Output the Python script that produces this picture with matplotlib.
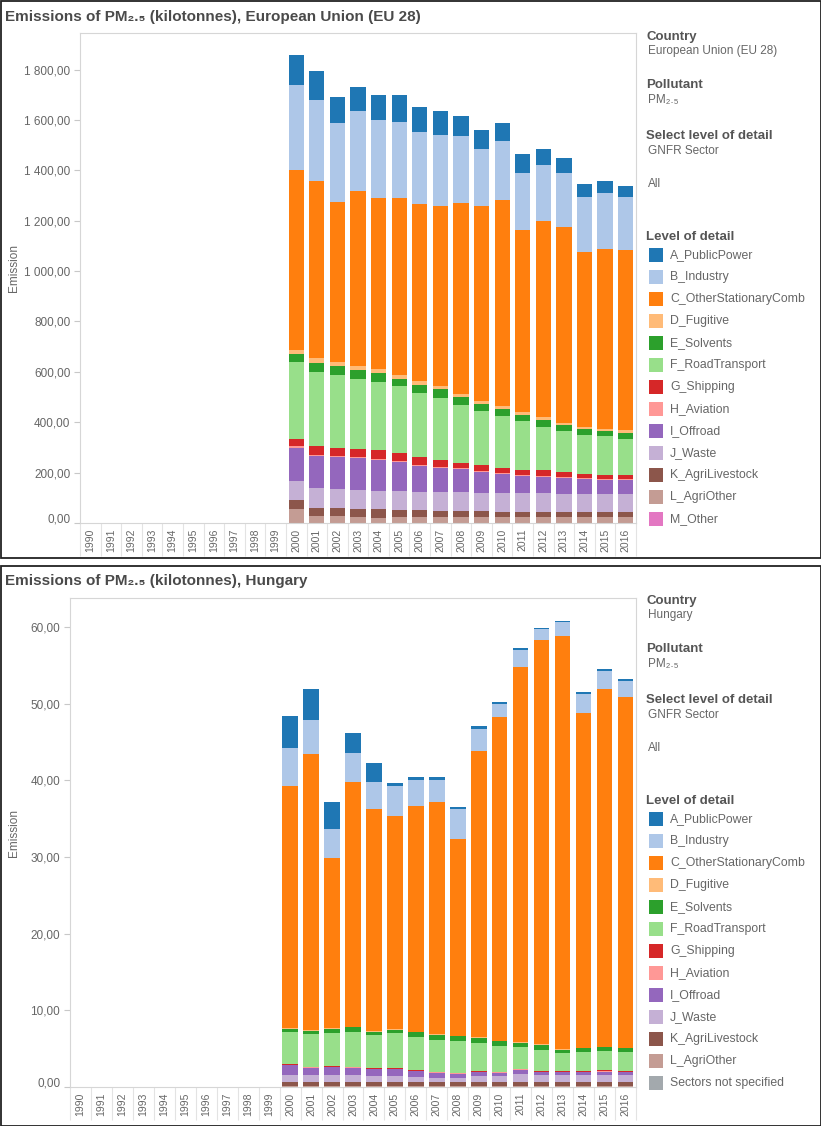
import numpy as np
import matplotlib
matplotlib.use("Agg")
import matplotlib.pyplot as plt
from matplotlib.patches import Rectangle
from matplotlib.transforms import ScaledTranslation

W, H = 821, 1126

years = list(range(1990, 2017))
data_years = list(range(2000, 2017))

sector_names = ["A_PublicPower", "B_Industry", "C_OtherStationaryComb", "D_Fugitive",
                "E_Solvents", "F_RoadTransport", "G_Shipping", "H_Aviation", "I_Offroad",
                "J_Waste", "K_AgriLivestock", "L_AgriOther"]
sector_colors = ["#1f77b4", "#aec7e8", "#ff7f0e", "#ffbb78", "#2ca02c", "#98df8a",
                 "#d62728", "#ff9896", "#9467bd", "#c5b0d5", "#8c564b", "#c49c94"]

# EU 28, kilotonnes, 2000..2016
eu_a = [119, 112, 103, 95, 96, 107, 100, 95, 80, 72, 71, 75, 64, 59, 52, 48, 44]
eu_b = [338, 322, 314, 318, 310, 302, 285, 282, 266, 226, 235, 227, 222, 215, 218, 222, 210]
eu_c = [714, 704, 637, 694, 679, 702, 705, 717, 760, 777, 820, 723, 779, 779, 697, 716, 717]
eu_d = [19, 19, 16, 16, 16, 16, 14, 13, 12, 9, 9, 11, 11, 9, 7, 6, 11]
eu_e = [29, 36, 33, 36, 36, 30, 33, 35, 29, 30, 28, 26, 27, 24, 22, 23, 22]
eu_f = [305, 293, 291, 278, 271, 265, 256, 243, 232, 215, 206, 192, 174, 163, 156, 152, 144]
eu_g = [31, 37, 33, 34, 33, 33, 28, 30, 18, 22, 21, 20, 21, 20, 18, 16, 18]
eu_h = [5, 5, 4, 4, 4, 4, 4, 4, 4, 4, 4, 4, 4, 4, 4, 4, 4]
eu_i = [134, 126, 126, 125, 123, 112, 103, 93, 91, 82, 74, 70, 66, 63, 59, 58, 55]
eu_j = [73, 81, 77, 78, 75, 77, 73, 76, 76, 72, 76, 73, 73, 69, 69, 69, 69]
eu_k = [38, 30, 30, 29, 33, 29, 29, 26, 26, 26, 22, 22, 22, 22, 22, 22, 22]
eu_l = [54, 28, 28, 25, 21, 23, 23, 23, 23, 23, 23, 23, 23, 23, 23, 23, 23]
eu_m = [0, 0, 0, 0, 0, 0, 0, 0, 0, 0, 0, 0, 0, 0, 0, 0, 0]

# Hungary, kilotonnes, 2000..2016
hu_a = [4.2, 4.1, 3.4, 2.6, 2.5, 0.5, 0.4, 0.4, 0.3, 0.4, 0.3, 0.3, 0.2, 0.2, 0.3, 0.3, 0.2]
hu_b = [5.0, 4.4, 3.8, 3.8, 3.5, 3.9, 3.4, 2.8, 3.8, 2.9, 1.6, 2.2, 1.4, 1.8, 2.4, 2.3, 2.1]
hu_c = [31.55, 35.97, 22.25, 31.94, 29.0, 27.8, 29.4, 30.3, 25.75, 37.3, 42.3, 49.0,
        52.7, 53.9, 43.7, 46.65, 45.8]
hu_d = [0.08, 0.08, 0.08, 0.08, 0.08, 0.08, 0.08, 0.08, 0.08, 0.08, 0.08, 0.08, 0.08,
        0.08, 0.08, 0.08, 0.08]
hu_e = [0.43, 0.52, 0.52, 0.65, 0.43, 0.35, 0.65, 0.65, 0.65, 0.65, 0.65, 0.52, 0.65,
        0.43, 0.43, 0.43, 0.43]
hu_f = [4.18, 4.18, 4.31, 4.48, 4.36, 4.64, 4.27, 4.17, 4.05, 3.73, 3.27, 2.81, 2.77,
        2.29, 2.55, 2.59, 2.55]
hu_g = [0.12, 0.12, 0.12, 0.12, 0.12, 0.12, 0.12, 0.12, 0.12, 0.12, 0.12, 0.12, 0.12,
        0.12, 0.12, 0.12, 0.12]
hu_h = [0.03, 0.03, 0.03, 0.03, 0.03, 0.03, 0.03, 0.03, 0.03, 0.03, 0.03, 0.03, 0.03,
        0.03, 0.03, 0.03, 0.03]
hu_i = [1.26, 0.95, 0.99, 0.95, 0.86, 0.86, 0.8, 0.65, 0.52, 0.49, 0.45, 0.51, 0.4,
        0.45, 0.39, 0.45, 0.34]
hu_j = [0.95, 0.95, 1.0, 0.95, 0.82, 0.82, 0.65, 0.6, 0.6, 0.8, 0.8, 1.13, 0.95, 0.9,
        0.9, 0.95, 0.95]
hu_k = [0.5, 0.5, 0.5, 0.5, 0.5, 0.5, 0.5, 0.5, 0.5, 0.5, 0.5, 0.5, 0.5, 0.5, 0.5, 0.5, 0.5]
hu_l = [0.1, 0.1, 0.1, 0.1, 0.1, 0.1, 0.1, 0.1, 0.1, 0.1, 0.1, 0.1, 0.1, 0.1, 0.1, 0.1, 0.1]
hu_ns = [0.02, 0.02, 0.02, 0.02, 0.02, 0.02, 0.02, 0.02, 0.02, 0.02, 0.02, 0.02, 0.02,
         0.02, 0.02, 0.02, 0.02]

eu_series = [eu_a, eu_b, eu_c, eu_d, eu_e, eu_f, eu_g, eu_h, eu_i, eu_j, eu_k, eu_l, eu_m]
eu_names = sector_names + ["M_Other"]
eu_colors = sector_colors + ["#e377c2"]

hu_series = [hu_a, hu_b, hu_c, hu_d, hu_e, hu_f, hu_g, hu_h, hu_i, hu_j, hu_k, hu_l, hu_ns]
hu_names = sector_names + ["Sectors not specified"]
hu_colors = sector_colors + ["#a3a9ad"]

SANS = ["Liberation Sans", "DejaVu Sans"]
GRAY = "#666666"
DARK = "#555555"

fig = plt.figure(figsize=(W / 100, H / 100), dpi=100)


def ftext(x, y, s, **kw):
    kw.setdefault("family", SANS)
    kw.setdefault("va", "center")
    fig.text(x / W, 1 - y / H, s, **kw)


def fmt(v, pos):
    return f"{v:,.2f}".replace(",", " ").replace(".", ",")


def draw_panel(y0, frame, ax_box, title, country, series, names, colors, ymax, ystep):
    # outer frame of the dashboard sheet
    fx0, fy0, fx1, fy1 = frame
    fig.patches.append(Rectangle((fx0 / W, 1 - fy1 / H), (fx1 - fx0) / W, (fy1 - fy0) / H,
                                 transform=fig.transFigure, fill=False,
                                 edgecolor="#222222", linewidth=1.3))
    ftext(5, y0 + 17, title, fontsize=11, fontweight="bold", color="#4a4a4a")

    left, top, right, bottom = ax_box
    ax = fig.add_axes([left / W, 1 - bottom / H, (right - left) / W, (bottom - top) / H])

    x = np.array([years.index(y) for y in data_years])
    base = np.zeros(len(data_years))
    for vals, col in zip(series[::-1], colors[::-1]):
        ax.bar(x, vals, bottom=base, width=0.74, color=col, linewidth=0)
        base = base + np.array(vals)

    ax.set_xlim(-0.5, len(years) - 0.5)
    ax.set_ylim(0, ymax)
    ax.set_yticks(np.arange(0, ymax, ystep))
    ax.yaxis.set_major_formatter(plt.FuncFormatter(fmt))
    ax.set_xticks(range(len(years)))
    ax.set_xticklabels([str(y) for y in years], rotation=90)
    ax.set_xticks(np.arange(-0.5, len(years)), minor=True)
    ax.tick_params(axis="x", which="major", length=0, pad=4, labelsize=7.5, labelcolor=GRAY)
    ax.tick_params(axis="x", which="minor", length=24, width=0.8, color="#e3e3e3")
    ax.tick_params(axis="y", length=4, width=0.8, color="#c8c8c8", labelsize=8.5,
                   labelcolor=GRAY, pad=3)
    for lab in ax.get_xticklabels() + ax.get_yticklabels():
        lab.set_family(SANS)
    # the zero label sits a little above the baseline, as in the dashboard
    zero_lab = ax.get_yticklabels()[0]
    zero_lab.set_transform(zero_lab.get_transform() +
                           ScaledTranslation(0, 5 / 100, fig.dpi_scale_trans))
    for sp in ax.spines.values():
        sp.set_color("#d6d6d6")
        sp.set_linewidth(0.8)
    ax.set_ylabel("Emission", fontsize=8.5, color=GRAY, family=SANS)
    ax.yaxis.set_label_coords(-(left - 20) / (right - left), 0.52)

    # filter / parameter cards on the right
    ftext(646, y0 + 37, "Country", fontsize=9.5, fontweight="bold", color=DARK)
    ftext(648, y0 + 51, country, fontsize=8.5, color=GRAY)
    ftext(646, y0 + 85, "Pollutant", fontsize=9.5, fontweight="bold", color=DARK)
    ftext(648, y0 + 100, "PM₂.₅", fontsize=8.5, color=GRAY)
    ftext(646, y0 + 136, "Select level of detail", fontsize=9.5, fontweight="bold", color=DARK)
    ftext(648, y0 + 151, "GNFR Sector", fontsize=8.5, color=GRAY)
    ftext(648, y0 + 184, "All", fontsize=8.5, color=GRAY)
    ftext(646, y0 + 237, "Level of detail", fontsize=9.5, fontweight="bold", color=DARK)
    for i, (name, col) in enumerate(zip(names, colors)):
        yc = y0 + 255 + 22 * i
        fig.patches.append(Rectangle((649 / W, 1 - (yc + 7) / H), 14 / W, 14 / H,
                                     transform=fig.transFigure, color=col, linewidth=0))
        ftext(670, yc, name, fontsize=8.8, color=GRAY)
    return ax


draw_panel(0, (0.5, 0.5, 820.5, 557.5), (80, 33, 636, 523),
           "Emissions of PM₂.₅ (kilotonnes), European Union (EU 28)",
           "European Union (EU 28)", eu_series, eu_names, eu_colors, 1945, 200)
draw_panel(564, (0.5, 566, 820.5, 1125.5), (70, 598, 636, 1087),
           "Emissions of PM₂.₅ (kilotonnes), Hungary",
           "Hungary", hu_series, hu_names, hu_colors, 63.8, 10)

fig.savefig("out.png", dpi=100)
